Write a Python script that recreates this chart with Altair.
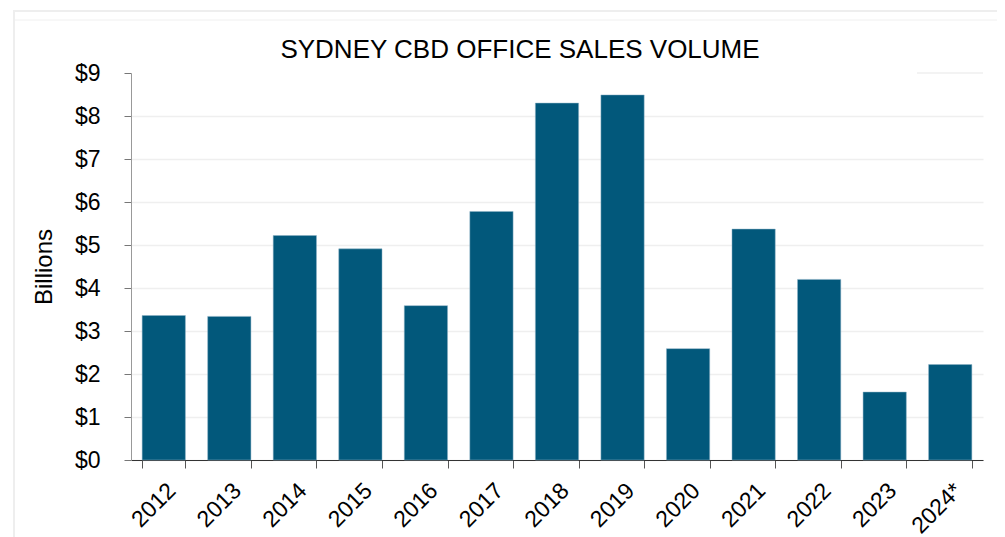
import altair as alt
import pandas as pd

years = ["2012", "2013", "2014", "2015", "2016", "2017", "2018", "2019",
         "2020", "2021", "2022", "2023", "2024*"]
volume = [3.36, 3.34, 5.22, 4.91, 3.59, 5.78, 8.30, 8.49, 2.59, 5.37, 4.20, 1.58, 2.22]
chart_title = "SYDNEY CBD OFFICE SALES VOLUME"

df = pd.DataFrame({"year": years, "volume": volume})

W, H = 852, 387
FONT = "Liberation Sans"

x_enc = alt.X(
    "year:N", sort=years, title=None,
    scale=alt.Scale(paddingInner=0.34, paddingOuter=0.17),
    axis=alt.Axis(labelAngle=-45, labelFontSize=23, labelColor="#000",
                  labelFont=FONT, tickBand="extent", tickSize=8,
                  tickColor="#555", domainColor="#333", labelPadding=11, grid=False),
)
y_enc = alt.Y(
    "volume:Q", title="Billions",
    scale=alt.Scale(domain=[0, 9], nice=False),
    axis=alt.Axis(values=list(range(0, 10)), labelExpr="'$' + datum.value",
                  labelFontSize=23, labelColor="#000", labelFont=FONT,
                  titleFontSize=24, titleFont=FONT, titleFontWeight="normal",
                  titleColor="#000", titlePadding=18, tickSize=7, tickColor="#777",
                  domainColor="#999", labelPadding=24, grid=True,
                  gridColor="#efefef", gridWidth=1.5,
                  gridOpacity={"condition": {"test": "datum.value === 9", "value": 0},
                               "value": 1}),
)

bars = alt.Chart(df).mark_bar(color="#02587B", stroke="#8fb3c6", strokeWidth=0.5).encode(
    x=x_enc, y=y_enc
)

frame = pd.DataFrame({"k": [0]})
top1 = alt.Chart(frame).mark_rule(color="#eeeeee", strokeWidth=2).encode(
    x=alt.value(-118), x2=alt.value(W + 14), y=alt.value(-62))
top2 = alt.Chart(frame).mark_rule(color="#f0f0f0", strokeWidth=1).encode(
    x=alt.value(-118), x2=alt.value(W + 14), y=alt.value(-53))
left = alt.Chart(frame).mark_rule(color="#eeeeee", strokeWidth=2).encode(
    x=alt.value(-117), y=alt.value(-62), y2=alt.value(H + 77))
grid9 = alt.Chart(pd.DataFrame({"v": [9]})).mark_rule(color="#efefef", strokeWidth=1.5).encode(
    y=alt.Y("v:Q"), x=alt.value(786), x2=alt.value(W))
title = alt.Chart(pd.DataFrame({"t": [chart_title]})).mark_text(
    fontSize=26, font=FONT, color="#000", align="center", baseline="alphabetic"
).encode(text="t:N", x=alt.value(389), y=alt.value(-15))

chart = alt.layer(top1, top2, left, grid9, bars, title).properties(
    width=W, height=H,
    autosize=alt.AutoSizeParams(type="none"),
    padding={"left": 123, "top": 65, "right": 14, "bottom": 77},
).configure_view(stroke=None)

chart.save("out.html", embed_options={"renderer": "svg", "actions": False})
